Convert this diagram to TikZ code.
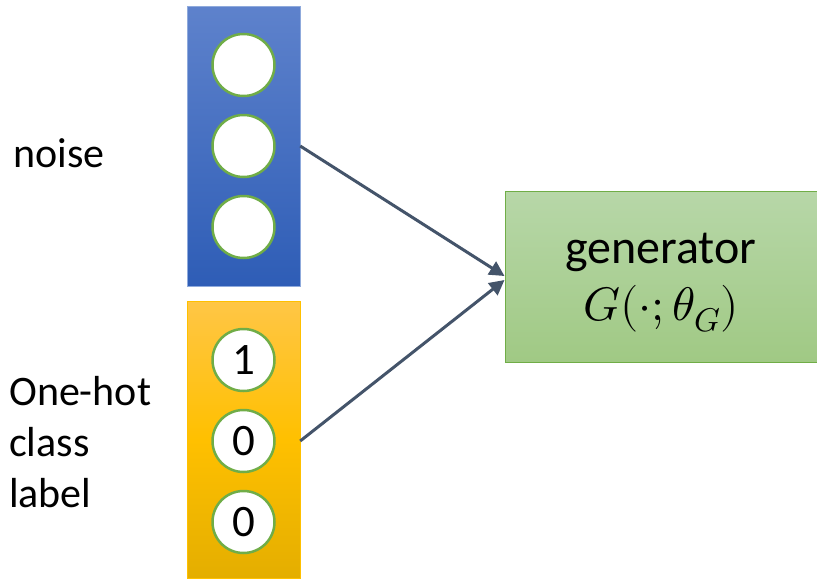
\documentclass[tikz,border=0pt]{standalone}
\usepackage{unicode-math}
\setmainfont{Carlito}
\usetikzlibrary{arrows.meta}
\usetikzlibrary{positioning}

\definecolor{linkcol}{RGB}{68,84,106}
\definecolor{ringcol}{RGB}{112,173,71}

\tikzset{
  unit/.style={circle, draw=ringcol, line width=2.5pt, fill=white, minimum size=62pt, inner sep=0pt, font=\fontsize{45}{50}\selectfont},
  bar/.style={minimum width=113pt, inner sep=0pt},
  link/.style={draw=linkcol, line width=3pt, -{Triangle[length=15pt,width=15pt]}},
  lbl/.style={font=\fontsize{42}{51}\selectfont, inner sep=0pt, align=left}
}

\begin{document}
\begin{tikzpicture}[x=1pt,y=-1pt]
    \useasboundingbox (0,0) rectangle (817,581);

    % 输入向量
    \node[bar, minimum height=280pt, draw={rgb,255:red,143;green,170;blue,220}, top color={rgb,255:red,94;green,130;blue,204}, bottom color={rgb,255:red,46;green,93;blue,182}] (noisebar) at (243.5,146) {};
    \node[bar, minimum height=277pt, draw={rgb,255:red,255;green,192;blue,0}, top color={rgb,255:red,255;green,198;blue,70}, bottom color={rgb,255:red,228;green,174;blue,0}, middle color={rgb,255:red,255;green,192;blue,0}] (labelbar) at (243.5,439.5) {};

    \node[unit] (z1) at (243.5,65) {};
    \node[unit] (z2) at (243.5,146) {};
    \node[unit] (z3) at (243.5,227) {};
    \node[unit] (c1) at (243.5,360) {1};
    \node[unit] (c2) at (243.5,441) {0};
    \node[unit] (c3) at (243.5,522) {0};

    % 生成器
    \node[draw=ringcol, line width=1pt, top color={rgb,255:red,183;green,215;blue,168}, bottom color={rgb,255:red,160;green,201;blue,132}, minimum width=312pt, minimum height=171pt] (gen) at (661,277) {};
    \node[anchor=base, inner sep=0pt, font=\fontsize{48}{57}\selectfont] (gentxt) at (661,263) {generator};
    \node[anchor=base, inner sep=0pt, font=\fontsize{47}{55}\selectfont] (genmath) at (661,320) {$G(\cdot;\theta_G)$};

    \node[lbl, anchor=base west] (noisetxt) at (13,167) {noise};
    \node[lbl, anchor=base west] (classtxt) at (9,507) {One-hot\\class\\label};

    \draw[link] (z2 -| noisebar.east) -- ([yshift=1pt]gen.west);
    \draw[link] (c2 -| labelbar.east) -- ([yshift=-3pt]gen.west);
\end{tikzpicture}
\end{document}
